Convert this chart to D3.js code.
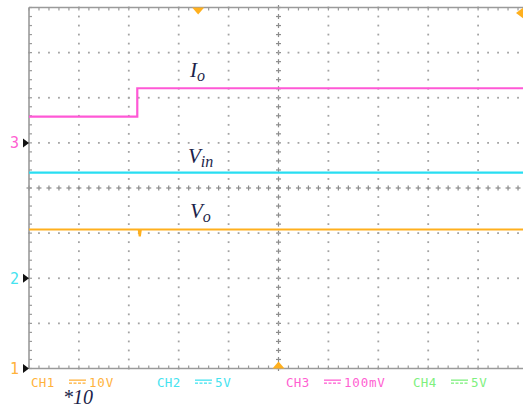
<!DOCTYPE html>
<html>
<head>
<meta charset="utf-8">
<script src="https://cdn.jsdelivr.net/npm/d3@7"></script>
<style>
  html, body { margin: 0; padding: 0; background: #fff; }
  svg { display: block; }
</style>
</head>
<body>
<svg id="scope" width="523" height="408"></svg>
<script>
// Channel setup (volts per division, ground reference in divisions from centre)
const channelNames = ["CH1", "CH2", "CH3", "CH4"];
const channelScaleText = ["10V", "5V", "100mV", "5V"];
const channelVoltsPerDiv = [10, 5, 0.1, 5];
const channelGroundDiv = [-4, -2, 1, null];
const channelMarkers = ["1", "2", "3", null];

// Traces: time in divisions, value in volts of their channel
const ioTime  = [0, 2.17, 2.17, 10];          // CH3, load current sense
const ioValue = [0.058, 0.058, 0.121, 0.121];
const vinTime  = [0, 10];                      // CH2, input voltage
const vinValue = [11.7, 11.7];
const voTime  = [0, 2.2, 2.22, 2.24, 10];      // CH1, output voltage
const voValue = [30.8, 30.8, 29.3, 30.8, 30.8];

const traceLabels = [
  { main: "I", sub: "o",  channel: 2 },
  { main: "V", sub: "in", channel: 1 },
  { main: "V", sub: "o",  channel: 0 }
];
const probeNote = "*10";

const textColors  = ["#ffb23c", "#45e3f0", "#ff5fd2", "#7ef07e"];
const traceColors = ["#ffb01e", "#28def2", "#ff58d6", "#6ee86e"];

const svg = d3.select("#scope");
const X0 = 29, X1 = 528, Y0 = 7.5, Y1 = 368.5;
const x = d3.scaleLinear().domain([0, 10]).range([X0, X1]);
const y = d3.scaleLinear().domain([-4, 4]).range([Y1, Y0]);
const divOf = (ch, v) => v / channelVoltsPerDiv[ch] + channelGroundDiv[ch];

const plot = svg.append("g");
const grid = plot.append("g").attr("fill", "#a3a3a3");

// dotted graticule
const xDivs = d3.range(1, 10), yDivs = d3.range(-3, 4);
xDivs.forEach(d => {
  const cx = x(d);
  d3.range(-4, 4.001, 0.2).forEach(t => {
    if (d === 5) {
      grid.append("rect").attr("x", cx - 2.5).attr("y", y(t) - 0.6).attr("width", 5).attr("height", 1.2).attr("fill", "#8c8c8c");
      grid.append("rect").attr("x", cx - 0.6).attr("y", y(t) - 2.5).attr("width", 1.2).attr("height", 5).attr("fill", "#8c8c8c");
    } else {
      grid.append("rect").attr("x", cx - 0.9).attr("y", y(t) - 0.9).attr("width", 1.8).attr("height", 1.8);
    }
  });
});
yDivs.forEach(d => {
  const cy = y(d);
  d3.range(0, 10.001, 0.2).forEach(t => {
    if (d === 0) {
      grid.append("rect").attr("x", x(t) - 2.5).attr("y", cy - 0.6).attr("width", 5).attr("height", 1.2).attr("fill", "#8c8c8c");
      grid.append("rect").attr("x", x(t) - 0.6).attr("y", cy - 2.5).attr("width", 1.2).attr("height", 5).attr("fill", "#8c8c8c");
    } else {
      grid.append("rect").attr("x", x(t) - 0.9).attr("y", cy - 0.9).attr("width", 1.8).attr("height", 1.8);
    }
  });
});

// border with inward minor ticks
const border = plot.append("g").attr("stroke", "#9a9a9a");
border.append("line").attr("x1", X0).attr("x2", X1).attr("y1", Y0).attr("y2", Y0).attr("stroke-width", 1.6);
border.append("line").attr("x1", X0).attr("x2", X1).attr("y1", Y1).attr("y2", Y1).attr("stroke-width", 1.6);
border.append("line").attr("x1", X0).attr("x2", X0).attr("y1", Y0).attr("y2", Y1).attr("stroke-width", 1.6);
d3.range(0, 10.001, 0.2).forEach(t => {
  border.append("line").attr("x1", x(t)).attr("x2", x(t)).attr("y1", Y0).attr("y2", Y0 + 3).attr("stroke-width", 1.2);
  border.append("line").attr("x1", x(t)).attr("x2", x(t)).attr("y1", Y1).attr("y2", Y1 - 3).attr("stroke-width", 1.2);
});
d3.range(-4, 4.001, 0.2).forEach(t => {
  border.append("line").attr("x1", X0).attr("x2", X0 + 3).attr("y1", y(t)).attr("y2", y(t)).attr("stroke-width", 1.2);
});

// traces
const line = d3.line().curve(d3.curveLinear);
const traces = [
  { ch: 2, t: ioTime, v: ioValue },
  { ch: 1, t: vinTime, v: vinValue },
  { ch: 0, t: voTime, v: voValue }
];
traces.forEach(tr => {
  const pts = tr.t.map((t, i) => [x(t), y(divOf(tr.ch, tr.v[i]))]);
  plot.append("path").attr("d", line(pts)).attr("fill", "none")
    .attr("stroke", traceColors[tr.ch]).attr("stroke-width", 2.2)
    .attr("stroke-linejoin", "miter");
});

// trace names
const labelPos = [[190, 77], [188, 163], [190, 218]];
traceLabels.forEach((lb, i) => {
  const t = svg.append("text").attr("x", labelPos[i][0]).attr("y", labelPos[i][1])
    .attr("font-family", "Liberation Serif, serif").attr("font-style", "italic")
    .attr("font-size", 21).attr("fill", "#1c1f4a");
  t.append("tspan").text(lb.main);
  t.append("tspan").attr("dy", 4).attr("font-size", 16).text(lb.sub);
});

// channel ground markers on the left edge
channelMarkers.forEach((m, ch) => {
  if (m === null) return;
  const cy = y(channelGroundDiv[ch]);
  svg.append("path").attr("d", `M${X0},${cy} L${X0 - 6},${cy - 4.5} L${X0 - 6},${cy + 4.5} Z`).attr("fill", "#111");
  svg.append("text").attr("x", 10).attr("y", cy + 5.5)
    .attr("font-family", "DejaVu Sans Mono, monospace").attr("font-size", 15)
    .attr("fill", textColors[ch]).text(m);
});

// trigger position and level markers
const trigTime = 3.39;
svg.append("path").attr("d", `M${x(trigTime) - 6},${Y0} L${x(trigTime) + 6},${Y0} L${x(trigTime)},${Y0 + 7} Z`).attr("fill", traceColors[0]);
svg.append("path").attr("d", `M${x(5) - 6},${Y1} L${x(5) + 6},${Y1} L${x(5)},${Y1 - 7} Z`).attr("fill", traceColors[0]);
svg.append("path").attr("d", `M516,13 L524,7 L524,19 Z`).attr("fill", traceColors[0]);

// channel settings row
const rowX = [31, 157, 286, 413];
channelNames.forEach((name, ch) => {
  const g = svg.append("g").attr("fill", textColors[ch]);
  const bx = rowX[ch];
  g.append("text").attr("x", bx).attr("y", 387)
    .attr("font-family", "DejaVu Sans Mono, monospace").attr("font-size", 12.5)
    .attr("letter-spacing", 0.3).text(name);
  // DC coupling symbol
  g.append("rect").attr("x", bx + 38).attr("y", 379.5).attr("width", 17).attr("height", 1.3);
  d3.range(0, 4).forEach(k => g.append("rect").attr("x", bx + 38 + k * 4.5).attr("y", 382.5).attr("width", 3).attr("height", 1.3));
  g.append("text").attr("x", bx + 58).attr("y", 387)
    .attr("font-family", "DejaVu Sans Mono, monospace").attr("font-size", 12.5)
    .attr("letter-spacing", 0.8).text(channelScaleText[ch]);
});

svg.append("text").attr("x", 63).attr("y", 404)
  .attr("font-family", "Liberation Serif, serif").attr("font-style", "italic")
  .attr("font-size", 20).attr("fill", "#1c1f4a").text(probeNote);
</script>
</body>
</html>
